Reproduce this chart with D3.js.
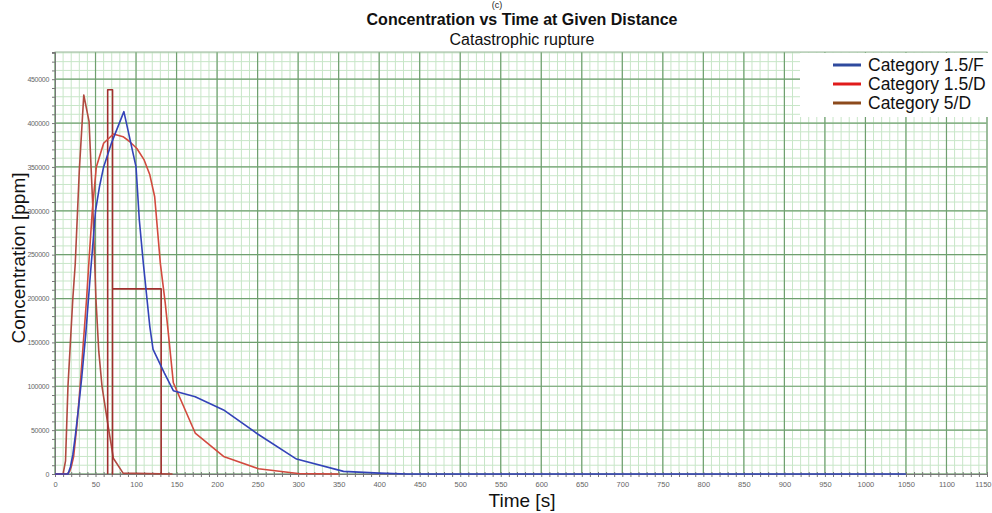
<html>
<head>
<style>
body { margin: 0; background: #fff; }
svg { font-family: 'Liberation Sans', Arial, sans-serif; }
</style>
</head>
<body>
<svg></svg>
<script src="https://d3js.org/d3.v7.min.js"></script>
<script>

const fullWidth = 992;
const fullHeight = 513;
const margin = {top: 52, right: 5, bottom: 39, left: 55};

// time [s], concentration [ppm]
const blueTimes = [0, 16, 19, 22, 25, 29, 33, 38, 43, 47, 50, 55, 60, 70, 85, 100, 104, 109, 117, 121, 135, 146, 173, 208, 251, 298, 356, 400, 435, 1050];
const blueValues = [0, 0, 8000, 22000, 43000, 75000, 110000, 160000, 220000, 265000, 300000, 328000, 350000, 378000, 413000, 350000, 290000, 240000, 168000, 142000, 115000, 95000, 88000, 73000, 45000, 17000, 3000, 1000, 0, 0];

const redTimes = [0, 15, 18, 20, 23, 27, 31, 35, 39, 42, 46, 51, 60, 72, 84, 92, 101, 110, 117, 123, 130, 136, 141, 146, 173, 208, 251, 300, 350];
const redValues = [0, 0, 3000, 8000, 20000, 55000, 100000, 150000, 200000, 244000, 300000, 350000, 377000, 387500, 384500, 379000, 371000, 358000, 341000, 316000, 240000, 195000, 150000, 104000, 46700, 20000, 6000, 500, 0];

const brownTimes = [0, 10, 13, 16, 19, 22, 25, 30, 35.5, 42, 46.5, 50.5, 54, 58, 65, 72, 84, 145];
const brownValues = [0, 0, 15000, 100000, 150000, 200000, 240000, 346000, 432000, 402000, 308000, 200000, 140000, 100000, 58000, 18000, 1000, 0];

const stepTimes = [65, 65, 71, 71, 71, 131, 131];
const stepValues = [0, 438000, 438000, 0, 211000, 211000, 0];

const legendLabels = ['Category 1.5/F', 'Category 1.5/D', 'Category 5/D'];
const legendColors = ['#2f4a9e', '#e01b1b', '#8c4a1c'];

const xTicks = d3.range(0, 1151, 50);
const yTicks = d3.range(0, 450001, 50000);

const svg = d3.select('svg')
    .attr('width', fullWidth)
    .attr('height', fullHeight);

const x = d3.scaleLinear()
    .domain([0, 1150])
    .range([margin.left, fullWidth - margin.right]);

const y = d3.scaleLinear()
    .domain([0, 481000])
    .range([fullHeight - margin.bottom, margin.top]);

const plotTop = margin.top;
const plotBottom = fullHeight - margin.bottom;
const plotLeft = margin.left;
const plotRight = fullWidth - margin.right;

// grid
const grid = svg.append('g');
grid.selectAll('.vminor')
    .data(d3.range(0, 1151, 10))
    .join('line')
    .attr('x1', d => x(d)).attr('x2', d => x(d))
    .attr('y1', plotTop).attr('y2', plotBottom)
    .attr('stroke', '#c8e6c8').attr('stroke-width', 1);
grid.selectAll('.hminor')
    .data(d3.range(0, 481000, 10000))
    .join('line')
    .attr('x1', plotLeft).attr('x2', plotRight)
    .attr('y1', d => y(d)).attr('y2', d => y(d))
    .attr('stroke', '#c8e6c8').attr('stroke-width', 1);
grid.selectAll('.vmajor')
    .data(xTicks)
    .join('line')
    .attr('x1', d => x(d)).attr('x2', d => x(d))
    .attr('y1', plotTop).attr('y2', plotBottom)
    .attr('stroke', '#6f9f6f').attr('stroke-width', 1.2);
grid.selectAll('.hmajor')
    .data(yTicks)
    .join('line')
    .attr('x1', plotLeft).attr('x2', plotRight)
    .attr('y1', d => y(d)).attr('y2', d => y(d))
    .attr('stroke', '#6f9f6f').attr('stroke-width', 1.2);

// frame
svg.append('rect')
    .attr('x', plotLeft).attr('y', plotTop)
    .attr('width', plotRight - plotLeft).attr('height', plotBottom - plotTop)
    .attr('fill', 'none').attr('stroke', '#9ab89a');

// axes
const xAxis = svg.append('g')
    .attr('transform', `translate(0,${plotBottom})`)
    .call(d3.axisBottom(x).tickValues(d3.range(0, 1151, 10)).tickSize(3)
        .tickFormat(d => d % 50 === 0 ? d : ''));
xAxis.select('.domain').attr('stroke', '#777');
xAxis.selectAll('.tick line').attr('stroke', '#777').attr('y1', -2);
xAxis.selectAll('.tick text')
    .attr('font-size', 7.5).attr('fill', '#666').attr('dy', '0.9em')
    .attr('text-anchor', d => d === 1150 ? 'end' : 'middle')
    .attr('x', d => d === 1150 ? 4 : 0);

const yAxis = svg.append('g')
    .attr('transform', `translate(${plotLeft},0)`)
    .call(d3.axisLeft(y).tickValues(d3.range(0, 480001, 10000)).tickSize(3)
        .tickFormat(d => d % 50000 === 0 ? d : ''));
yAxis.select('.domain').attr('stroke', '#777');
yAxis.selectAll('.tick line').attr('stroke', '#777');
yAxis.selectAll('.tick text')
    .attr('font-size', 7).attr('fill', '#666').attr('x', -6)
    .attr('letter-spacing', -0.3);

// series
const line = d3.line().x(d => x(d[0])).y(d => y(d[1]));
const series = [
    {t: brownTimes, v: brownValues, color: '#b04a40'},
    {t: stepTimes, v: stepValues, color: '#a0302e'},
    {t: redTimes, v: redValues, color: '#d24a3e'},
    {t: blueTimes, v: blueValues, color: '#3343b8'},
];
series.forEach(s => {
    svg.append('path')
        .datum(s.t.map((t, i) => [t, s.v[i]]))
        .attr('d', line)
        .attr('fill', 'none')
        .attr('stroke', s.color)
        .attr('stroke-width', 1.6)
        .attr('stroke-linejoin', 'round');
});

// legend
const legend = svg.append('g');
legend.append('rect')
    .attr('x', 800).attr('y', 53).attr('width', 188).attr('height', 64)
    .attr('fill', '#fff');
legendLabels.forEach((label, i) => {
    const ly = 65 + i * 19;
    legend.append('line')
        .attr('x1', 833).attr('x2', 861).attr('y1', ly).attr('y2', ly)
        .attr('stroke', legendColors[i]).attr('stroke-width', 3);
    legend.append('text')
        .attr('x', 868).attr('y', ly + 6)
        .attr('font-size', 17.5).attr('fill', '#111')
        .text(label);
});

// titles
svg.append('text')
    .attr('x', 497).attr('y', 8)
    .attr('text-anchor', 'middle').attr('font-size', 9).attr('fill', '#222')
    .text('(c)');
svg.append('text')
    .attr('x', 522).attr('y', 25)
    .attr('text-anchor', 'middle').attr('font-size', 16).attr('font-weight', 'bold').attr('fill', '#111')
    .text('Concentration vs Time at Given Distance');
svg.append('text')
    .attr('x', 522).attr('y', 45)
    .attr('text-anchor', 'middle').attr('font-size', 16).attr('fill', '#111')
    .text('Catastrophic rupture');
svg.append('text')
    .attr('x', 522).attr('y', 507)
    .attr('text-anchor', 'middle').attr('font-size', 19).attr('fill', '#111')
    .text('Time [s]');
svg.append('text')
    .attr('transform', 'translate(25,258) rotate(-90)')
    .attr('text-anchor', 'middle').attr('font-size', 19).attr('fill', '#111')
    .text('Concentration [ppm]');

</script>
</body>
</html>
